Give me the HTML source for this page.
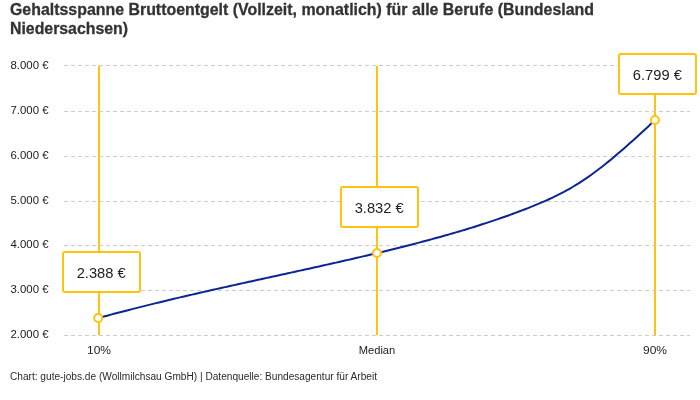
<!DOCTYPE html>
<html><head><meta charset="utf-8"><style>
html,body{margin:0;padding:0;background:#fff;width:700px;height:400px;overflow:hidden}
svg{display:block;will-change:transform;font-family:"Liberation Sans",sans-serif}
.g{stroke:#cccccc;stroke-width:1;stroke-dasharray:4 3}
.yl{font-size:11px;fill:#1a1a1a;text-anchor:end}
.xl{font-size:11px;fill:#222;text-anchor:middle}
.t{font-size:16px;font-weight:bold;fill:#333;stroke:#333;stroke-width:0.3}
.bx{fill:#fff;stroke:#ffc20e;stroke-width:2}
.bt{font-size:15px;fill:#222;text-anchor:middle}
.vl{fill:#ffc20e}
.mk{fill:#fff;stroke:#ffc20e;stroke-width:2}
</style></head><body>
<svg width="700" height="400" viewBox="0 0 700 400">
<text x="10" y="14.5" class="t" textLength="584" lengthAdjust="spacingAndGlyphs">Gehaltsspanne Bruttoentgelt (Vollzeit, monatlich) für alle Berufe (Bundesland</text>
<text x="10" y="33.5" class="t" textLength="118" lengthAdjust="spacingAndGlyphs">Niedersachsen)</text>
<rect x="98" y="66" width="2" height="269" class="vl"/>
<rect x="376" y="66" width="2" height="269" class="vl"/>
<rect x="654" y="66" width="2" height="269" class="vl"/>
<line x1="64" y1="65.5" x2="690" y2="65.5" class="g"/><line x1="64" y1="111.5" x2="690" y2="111.5" class="g"/><line x1="64" y1="156.5" x2="690" y2="156.5" class="g"/><line x1="64" y1="201.5" x2="690" y2="201.5" class="g"/><line x1="64" y1="245.5" x2="690" y2="245.5" class="g"/><line x1="64" y1="290.5" x2="690" y2="290.5" class="g"/><line x1="64" y1="335.5" x2="690" y2="335.5" class="g"/>
<text x="48.5" y="69" class="yl" textLength="38" lengthAdjust="spacingAndGlyphs">8.000 €</text><text x="48.5" y="114" class="yl" textLength="38" lengthAdjust="spacingAndGlyphs">7.000 €</text><text x="48.5" y="159" class="yl" textLength="38" lengthAdjust="spacingAndGlyphs">6.000 €</text><text x="48.5" y="204" class="yl" textLength="38" lengthAdjust="spacingAndGlyphs">5.000 €</text><text x="48.5" y="248" class="yl" textLength="38" lengthAdjust="spacingAndGlyphs">4.000 €</text><text x="48.5" y="293" class="yl" textLength="38" lengthAdjust="spacingAndGlyphs">3.000 €</text><text x="48.5" y="338" class="yl" textLength="38" lengthAdjust="spacingAndGlyphs">2.000 €</text>
<path d="M99.0,318.00 L102.0,317.06 L105.0,316.24 L108.0,315.43 L111.0,314.63 L114.0,313.83 L117.0,313.03 L120.0,312.24 L123.0,311.46 L126.0,310.68 L129.0,309.91 L132.0,309.14 L135.0,308.37 L138.0,307.61 L141.0,306.86 L144.0,306.10 L147.0,305.36 L150.0,304.61 L153.0,303.88 L156.0,303.14 L159.0,302.41 L162.0,301.68 L165.0,300.96 L168.0,300.24 L171.0,299.53 L174.0,298.81 L177.0,298.10 L180.0,297.40 L183.0,296.70 L186.0,296.00 L189.0,295.30 L192.0,294.61 L195.0,293.91 L198.0,293.23 L201.0,292.54 L204.0,291.86 L207.0,291.17 L210.0,290.49 L213.0,289.82 L216.0,289.14 L219.0,288.47 L222.0,287.80 L225.0,287.13 L228.0,286.46 L231.0,285.79 L234.0,285.13 L237.0,284.46 L240.0,283.80 L243.0,283.14 L246.0,282.48 L249.0,281.82 L252.0,281.16 L255.0,280.50 L258.0,279.84 L261.0,279.19 L264.0,278.53 L267.0,277.87 L270.0,277.22 L273.0,276.56 L276.0,275.90 L279.0,275.25 L282.0,274.59 L285.0,273.93 L288.0,273.27 L291.0,272.62 L294.0,271.96 L297.0,271.30 L300.0,270.64 L303.0,269.98 L306.0,269.31 L309.0,268.65 L312.0,267.99 L315.0,267.32 L318.0,266.65 L321.0,265.98 L324.0,265.31 L327.0,264.64 L330.0,263.97 L333.0,263.29 L336.0,262.61 L339.0,261.93 L342.0,261.25 L345.0,260.56 L348.0,259.88 L351.0,259.19 L354.0,258.49 L357.0,257.80 L360.0,257.10 L363.0,256.40 L366.0,255.70 L369.0,254.99 L372.0,254.28 L375.0,253.57 L378.0,252.85 L381.0,252.13 L384.0,251.41 L387.0,250.68 L390.0,249.95 L393.0,249.21 L396.0,248.47 L399.0,247.73 L402.0,246.98 L405.0,246.22 L408.0,245.46 L411.0,244.69 L414.0,243.92 L417.0,243.14 L420.0,242.36 L423.0,241.57 L426.0,240.77 L429.0,239.97 L432.0,239.15 L435.0,238.34 L438.0,237.51 L441.0,236.67 L444.0,235.83 L447.0,234.98 L450.0,234.12 L453.0,233.25 L456.0,232.38 L459.0,231.49 L462.0,230.60 L465.0,229.69 L468.0,228.78 L471.0,227.86 L474.0,226.93 L477.0,225.98 L480.0,225.03 L483.0,224.07 L486.0,223.10 L489.0,222.11 L492.0,221.12 L495.0,220.11 L498.0,219.09 L501.0,218.05 L504.0,217.01 L507.0,215.94 L510.0,214.87 L513.0,213.78 L516.0,212.67 L519.0,211.54 L522.0,210.40 L525.0,209.24 L528.0,208.06 L531.0,206.86 L534.0,205.64 L537.0,204.40 L540.0,203.15 L543.0,201.86 L546.0,200.56 L549.0,199.22 L552.0,197.84 L555.0,196.42 L558.0,194.95 L561.0,193.43 L564.0,191.85 L567.0,190.21 L570.0,188.51 L573.0,186.76 L576.0,184.94 L579.0,183.07 L582.0,181.13 L585.0,179.14 L588.0,177.08 L591.0,174.96 L594.0,172.79 L597.0,170.55 L600.0,168.26 L603.0,165.93 L606.0,163.54 L609.0,161.12 L612.0,158.65 L615.0,156.14 L618.0,153.60 L621.0,151.02 L624.0,148.41 L627.0,145.78 L630.0,143.11 L633.0,140.42 L636.0,137.70 L639.0,134.97 L642.0,132.21 L645.0,129.44 L648.0,126.65 L651.0,123.85 L654.0,121.04 L655,120" fill="none" stroke="#0c2494" stroke-width="2" stroke-linejoin="round"/>
<rect x="63" y="252" width="77" height="40" rx="2" class="bx"/><text x="101.2" y="278" class="bt" textLength="49" lengthAdjust="spacingAndGlyphs">2.388 €</text>
<rect x="341" y="187" width="77" height="40" rx="2" class="bx"/><text x="379.2" y="213" class="bt" textLength="49" lengthAdjust="spacingAndGlyphs">3.832 €</text>
<rect x="619" y="54" width="77" height="40" rx="2" class="bx"/><text x="657.3" y="80" class="bt" textLength="49" lengthAdjust="spacingAndGlyphs">6.799 €</text>
<circle cx="98.2" cy="318" r="4" class="mk"/>
<circle cx="377" cy="253" r="4" class="mk"/>
<circle cx="655" cy="120" r="4" class="mk"/>
<text x="99" y="354" class="xl" textLength="24" lengthAdjust="spacingAndGlyphs">10%</text>
<text x="377" y="354" class="xl" textLength="36.5" lengthAdjust="spacingAndGlyphs">Median</text>
<text x="655" y="354" class="xl" textLength="24" lengthAdjust="spacingAndGlyphs">90%</text>
<text x="10" y="379.7" style="font-size:10px;fill:#2a2a2a" textLength="367" lengthAdjust="spacingAndGlyphs">Chart: gute-jobs.de (Wollmilchsau GmbH) | Datenquelle: Bundesagentur für Arbeit</text>
</svg>
</body></html>
